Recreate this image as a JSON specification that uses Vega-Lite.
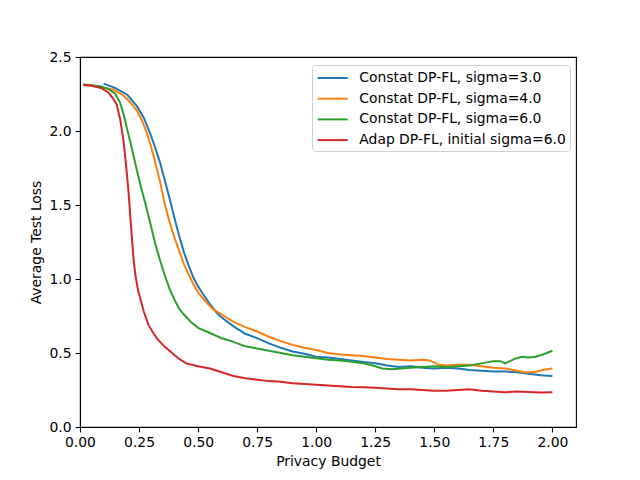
{
  "$schema": "https://vega.github.io/schema/vega-lite/v6.json",
  "width": 496,
  "height": 370,
  "autosize": "none",
  "padding": {"left": 80, "top": 57, "right": 64, "bottom": 53},
  "background": "white",
  "config": {
    "font": "DejaVu Sans",
    "view": {"stroke": "black", "strokeWidth": 1.1},
    "axis": {
      "grid": false,
      "labelFlush": false,
      "domainColor": "black",
      "domainWidth": 1.1,
      "tickColor": "black",
      "tickWidth": 1.1,
      "tickSize": 4.9,
      "labelColor": "black",
      "labelFont": "DejaVu Sans",
      "labelFontSize": 13.9,
      "labelPadding": 4,
      "titleFont": "DejaVu Sans",
      "titleFontSize": 13.9,
      "titleFontWeight": "normal",
      "titleColor": "black"
    }
  },
  "data": {
    "values": [
      {"s": "Constat DP-FL, sigma=3.0", "x": 0.10, "y": 2.32},
      {"s": "Constat DP-FL, sigma=3.0", "x": 0.15, "y": 2.29},
      {"s": "Constat DP-FL, sigma=3.0", "x": 0.20, "y": 2.245},
      {"s": "Constat DP-FL, sigma=3.0", "x": 0.24, "y": 2.17},
      {"s": "Constat DP-FL, sigma=3.0", "x": 0.27, "y": 2.09},
      {"s": "Constat DP-FL, sigma=3.0", "x": 0.30, "y": 1.97},
      {"s": "Constat DP-FL, sigma=3.0", "x": 0.32, "y": 1.88},
      {"s": "Constat DP-FL, sigma=3.0", "x": 0.34, "y": 1.78},
      {"s": "Constat DP-FL, sigma=3.0", "x": 0.36, "y": 1.66},
      {"s": "Constat DP-FL, sigma=3.0", "x": 0.38, "y": 1.54},
      {"s": "Constat DP-FL, sigma=3.0", "x": 0.40, "y": 1.41},
      {"s": "Constat DP-FL, sigma=3.0", "x": 0.42, "y": 1.29},
      {"s": "Constat DP-FL, sigma=3.0", "x": 0.44, "y": 1.18},
      {"s": "Constat DP-FL, sigma=3.0", "x": 0.46, "y": 1.09},
      {"s": "Constat DP-FL, sigma=3.0", "x": 0.48, "y": 1.01},
      {"s": "Constat DP-FL, sigma=3.0", "x": 0.50, "y": 0.95},
      {"s": "Constat DP-FL, sigma=3.0", "x": 0.52, "y": 0.90},
      {"s": "Constat DP-FL, sigma=3.0", "x": 0.55, "y": 0.83},
      {"s": "Constat DP-FL, sigma=3.0", "x": 0.58, "y": 0.77},
      {"s": "Constat DP-FL, sigma=3.0", "x": 0.60, "y": 0.74},
      {"s": "Constat DP-FL, sigma=3.0", "x": 0.65, "y": 0.68},
      {"s": "Constat DP-FL, sigma=3.0", "x": 0.70, "y": 0.63},
      {"s": "Constat DP-FL, sigma=3.0", "x": 0.75, "y": 0.60},
      {"s": "Constat DP-FL, sigma=3.0", "x": 0.80, "y": 0.565},
      {"s": "Constat DP-FL, sigma=3.0", "x": 0.85, "y": 0.535},
      {"s": "Constat DP-FL, sigma=3.0", "x": 0.90, "y": 0.51},
      {"s": "Constat DP-FL, sigma=3.0", "x": 0.95, "y": 0.495},
      {"s": "Constat DP-FL, sigma=3.0", "x": 1.00, "y": 0.475},
      {"s": "Constat DP-FL, sigma=3.0", "x": 1.05, "y": 0.47},
      {"s": "Constat DP-FL, sigma=3.0", "x": 1.10, "y": 0.46},
      {"s": "Constat DP-FL, sigma=3.0", "x": 1.15, "y": 0.45},
      {"s": "Constat DP-FL, sigma=3.0", "x": 1.20, "y": 0.44},
      {"s": "Constat DP-FL, sigma=3.0", "x": 1.25, "y": 0.43},
      {"s": "Constat DP-FL, sigma=3.0", "x": 1.30, "y": 0.415},
      {"s": "Constat DP-FL, sigma=3.0", "x": 1.35, "y": 0.405},
      {"s": "Constat DP-FL, sigma=3.0", "x": 1.40, "y": 0.41},
      {"s": "Constat DP-FL, sigma=3.0", "x": 1.45, "y": 0.40},
      {"s": "Constat DP-FL, sigma=3.0", "x": 1.50, "y": 0.395},
      {"s": "Constat DP-FL, sigma=3.0", "x": 1.55, "y": 0.40},
      {"s": "Constat DP-FL, sigma=3.0", "x": 1.60, "y": 0.395},
      {"s": "Constat DP-FL, sigma=3.0", "x": 1.65, "y": 0.385},
      {"s": "Constat DP-FL, sigma=3.0", "x": 1.70, "y": 0.38},
      {"s": "Constat DP-FL, sigma=3.0", "x": 1.75, "y": 0.375},
      {"s": "Constat DP-FL, sigma=3.0", "x": 1.80, "y": 0.375},
      {"s": "Constat DP-FL, sigma=3.0", "x": 1.85, "y": 0.37},
      {"s": "Constat DP-FL, sigma=3.0", "x": 1.90, "y": 0.36},
      {"s": "Constat DP-FL, sigma=3.0", "x": 1.95, "y": 0.35},
      {"s": "Constat DP-FL, sigma=3.0", "x": 2.00, "y": 0.345},

      {"s": "Constat DP-FL, sigma=4.0", "x": 0.014, "y": 2.31},
      {"s": "Constat DP-FL, sigma=4.0", "x": 0.05, "y": 2.305},
      {"s": "Constat DP-FL, sigma=4.0", "x": 0.10, "y": 2.29},
      {"s": "Constat DP-FL, sigma=4.0", "x": 0.14, "y": 2.28},
      {"s": "Constat DP-FL, sigma=4.0", "x": 0.18, "y": 2.245},
      {"s": "Constat DP-FL, sigma=4.0", "x": 0.21, "y": 2.2},
      {"s": "Constat DP-FL, sigma=4.0", "x": 0.24, "y": 2.14},
      {"s": "Constat DP-FL, sigma=4.0", "x": 0.26, "y": 2.08},
      {"s": "Constat DP-FL, sigma=4.0", "x": 0.28, "y": 2.0},
      {"s": "Constat DP-FL, sigma=4.0", "x": 0.30, "y": 1.9},
      {"s": "Constat DP-FL, sigma=4.0", "x": 0.32, "y": 1.78},
      {"s": "Constat DP-FL, sigma=4.0", "x": 0.34, "y": 1.65},
      {"s": "Constat DP-FL, sigma=4.0", "x": 0.36, "y": 1.5},
      {"s": "Constat DP-FL, sigma=4.0", "x": 0.38, "y": 1.38},
      {"s": "Constat DP-FL, sigma=4.0", "x": 0.40, "y": 1.28},
      {"s": "Constat DP-FL, sigma=4.0", "x": 0.42, "y": 1.19},
      {"s": "Constat DP-FL, sigma=4.0", "x": 0.44, "y": 1.1},
      {"s": "Constat DP-FL, sigma=4.0", "x": 0.46, "y": 1.03},
      {"s": "Constat DP-FL, sigma=4.0", "x": 0.48, "y": 0.965},
      {"s": "Constat DP-FL, sigma=4.0", "x": 0.50, "y": 0.91},
      {"s": "Constat DP-FL, sigma=4.0", "x": 0.53, "y": 0.85},
      {"s": "Constat DP-FL, sigma=4.0", "x": 0.56, "y": 0.80},
      {"s": "Constat DP-FL, sigma=4.0", "x": 0.60, "y": 0.76},
      {"s": "Constat DP-FL, sigma=4.0", "x": 0.65, "y": 0.71},
      {"s": "Constat DP-FL, sigma=4.0", "x": 0.70, "y": 0.675},
      {"s": "Constat DP-FL, sigma=4.0", "x": 0.75, "y": 0.645},
      {"s": "Constat DP-FL, sigma=4.0", "x": 0.80, "y": 0.61},
      {"s": "Constat DP-FL, sigma=4.0", "x": 0.85, "y": 0.58},
      {"s": "Constat DP-FL, sigma=4.0", "x": 0.90, "y": 0.555},
      {"s": "Constat DP-FL, sigma=4.0", "x": 0.95, "y": 0.535},
      {"s": "Constat DP-FL, sigma=4.0", "x": 1.00, "y": 0.52},
      {"s": "Constat DP-FL, sigma=4.0", "x": 1.05, "y": 0.50},
      {"s": "Constat DP-FL, sigma=4.0", "x": 1.10, "y": 0.49},
      {"s": "Constat DP-FL, sigma=4.0", "x": 1.15, "y": 0.485},
      {"s": "Constat DP-FL, sigma=4.0", "x": 1.20, "y": 0.48},
      {"s": "Constat DP-FL, sigma=4.0", "x": 1.25, "y": 0.47},
      {"s": "Constat DP-FL, sigma=4.0", "x": 1.30, "y": 0.46},
      {"s": "Constat DP-FL, sigma=4.0", "x": 1.35, "y": 0.455},
      {"s": "Constat DP-FL, sigma=4.0", "x": 1.40, "y": 0.45},
      {"s": "Constat DP-FL, sigma=4.0", "x": 1.45, "y": 0.455},
      {"s": "Constat DP-FL, sigma=4.0", "x": 1.48, "y": 0.45},
      {"s": "Constat DP-FL, sigma=4.0", "x": 1.52, "y": 0.42},
      {"s": "Constat DP-FL, sigma=4.0", "x": 1.55, "y": 0.415},
      {"s": "Constat DP-FL, sigma=4.0", "x": 1.60, "y": 0.42},
      {"s": "Constat DP-FL, sigma=4.0", "x": 1.65, "y": 0.42},
      {"s": "Constat DP-FL, sigma=4.0", "x": 1.70, "y": 0.41},
      {"s": "Constat DP-FL, sigma=4.0", "x": 1.75, "y": 0.40},
      {"s": "Constat DP-FL, sigma=4.0", "x": 1.80, "y": 0.395},
      {"s": "Constat DP-FL, sigma=4.0", "x": 1.85, "y": 0.38},
      {"s": "Constat DP-FL, sigma=4.0", "x": 1.88, "y": 0.37},
      {"s": "Constat DP-FL, sigma=4.0", "x": 1.92, "y": 0.37},
      {"s": "Constat DP-FL, sigma=4.0", "x": 1.96, "y": 0.385},
      {"s": "Constat DP-FL, sigma=4.0", "x": 2.00, "y": 0.395},

      {"s": "Constat DP-FL, sigma=6.0", "x": 0.014, "y": 2.315},
      {"s": "Constat DP-FL, sigma=6.0", "x": 0.05, "y": 2.31},
      {"s": "Constat DP-FL, sigma=6.0", "x": 0.09, "y": 2.30},
      {"s": "Constat DP-FL, sigma=6.0", "x": 0.12, "y": 2.285},
      {"s": "Constat DP-FL, sigma=6.0", "x": 0.15, "y": 2.25},
      {"s": "Constat DP-FL, sigma=6.0", "x": 0.17, "y": 2.19},
      {"s": "Constat DP-FL, sigma=6.0", "x": 0.185, "y": 2.11},
      {"s": "Constat DP-FL, sigma=6.0", "x": 0.20, "y": 2.01},
      {"s": "Constat DP-FL, sigma=6.0", "x": 0.22, "y": 1.88},
      {"s": "Constat DP-FL, sigma=6.0", "x": 0.24, "y": 1.74},
      {"s": "Constat DP-FL, sigma=6.0", "x": 0.26, "y": 1.61},
      {"s": "Constat DP-FL, sigma=6.0", "x": 0.28, "y": 1.49},
      {"s": "Constat DP-FL, sigma=6.0", "x": 0.30, "y": 1.36},
      {"s": "Constat DP-FL, sigma=6.0", "x": 0.32, "y": 1.23},
      {"s": "Constat DP-FL, sigma=6.0", "x": 0.34, "y": 1.12},
      {"s": "Constat DP-FL, sigma=6.0", "x": 0.36, "y": 1.02},
      {"s": "Constat DP-FL, sigma=6.0", "x": 0.38, "y": 0.93},
      {"s": "Constat DP-FL, sigma=6.0", "x": 0.40, "y": 0.86},
      {"s": "Constat DP-FL, sigma=6.0", "x": 0.42, "y": 0.80},
      {"s": "Constat DP-FL, sigma=6.0", "x": 0.44, "y": 0.76},
      {"s": "Constat DP-FL, sigma=6.0", "x": 0.47, "y": 0.71},
      {"s": "Constat DP-FL, sigma=6.0", "x": 0.50, "y": 0.67},
      {"s": "Constat DP-FL, sigma=6.0", "x": 0.55, "y": 0.635},
      {"s": "Constat DP-FL, sigma=6.0", "x": 0.60, "y": 0.60},
      {"s": "Constat DP-FL, sigma=6.0", "x": 0.65, "y": 0.575},
      {"s": "Constat DP-FL, sigma=6.0", "x": 0.70, "y": 0.545},
      {"s": "Constat DP-FL, sigma=6.0", "x": 0.75, "y": 0.53},
      {"s": "Constat DP-FL, sigma=6.0", "x": 0.80, "y": 0.515},
      {"s": "Constat DP-FL, sigma=6.0", "x": 0.85, "y": 0.50},
      {"s": "Constat DP-FL, sigma=6.0", "x": 0.90, "y": 0.485},
      {"s": "Constat DP-FL, sigma=6.0", "x": 0.95, "y": 0.475},
      {"s": "Constat DP-FL, sigma=6.0", "x": 1.00, "y": 0.465},
      {"s": "Constat DP-FL, sigma=6.0", "x": 1.05, "y": 0.455},
      {"s": "Constat DP-FL, sigma=6.0", "x": 1.10, "y": 0.45},
      {"s": "Constat DP-FL, sigma=6.0", "x": 1.15, "y": 0.44},
      {"s": "Constat DP-FL, sigma=6.0", "x": 1.20, "y": 0.43},
      {"s": "Constat DP-FL, sigma=6.0", "x": 1.24, "y": 0.415},
      {"s": "Constat DP-FL, sigma=6.0", "x": 1.28, "y": 0.395},
      {"s": "Constat DP-FL, sigma=6.0", "x": 1.32, "y": 0.39},
      {"s": "Constat DP-FL, sigma=6.0", "x": 1.36, "y": 0.395},
      {"s": "Constat DP-FL, sigma=6.0", "x": 1.40, "y": 0.40},
      {"s": "Constat DP-FL, sigma=6.0", "x": 1.45, "y": 0.405},
      {"s": "Constat DP-FL, sigma=6.0", "x": 1.50, "y": 0.41},
      {"s": "Constat DP-FL, sigma=6.0", "x": 1.55, "y": 0.405},
      {"s": "Constat DP-FL, sigma=6.0", "x": 1.60, "y": 0.41},
      {"s": "Constat DP-FL, sigma=6.0", "x": 1.65, "y": 0.415},
      {"s": "Constat DP-FL, sigma=6.0", "x": 1.70, "y": 0.43},
      {"s": "Constat DP-FL, sigma=6.0", "x": 1.75, "y": 0.445},
      {"s": "Constat DP-FL, sigma=6.0", "x": 1.78, "y": 0.445},
      {"s": "Constat DP-FL, sigma=6.0", "x": 1.80, "y": 0.43},
      {"s": "Constat DP-FL, sigma=6.0", "x": 1.84, "y": 0.46},
      {"s": "Constat DP-FL, sigma=6.0", "x": 1.87, "y": 0.475},
      {"s": "Constat DP-FL, sigma=6.0", "x": 1.90, "y": 0.47},
      {"s": "Constat DP-FL, sigma=6.0", "x": 1.93, "y": 0.475},
      {"s": "Constat DP-FL, sigma=6.0", "x": 1.96, "y": 0.49},
      {"s": "Constat DP-FL, sigma=6.0", "x": 2.00, "y": 0.515},

      {"s": "Adap DP-FL, initial sigma=6.0", "x": 0.014, "y": 2.312},
      {"s": "Adap DP-FL, initial sigma=6.0", "x": 0.05, "y": 2.305},
      {"s": "Adap DP-FL, initial sigma=6.0", "x": 0.09, "y": 2.29},
      {"s": "Adap DP-FL, initial sigma=6.0", "x": 0.12, "y": 2.26},
      {"s": "Adap DP-FL, initial sigma=6.0", "x": 0.14, "y": 2.22},
      {"s": "Adap DP-FL, initial sigma=6.0", "x": 0.155, "y": 2.18},
      {"s": "Adap DP-FL, initial sigma=6.0", "x": 0.17, "y": 2.08},
      {"s": "Adap DP-FL, initial sigma=6.0", "x": 0.184, "y": 1.935},
      {"s": "Adap DP-FL, initial sigma=6.0", "x": 0.195, "y": 1.77},
      {"s": "Adap DP-FL, initial sigma=6.0", "x": 0.205, "y": 1.597},
      {"s": "Adap DP-FL, initial sigma=6.0", "x": 0.215, "y": 1.38},
      {"s": "Adap DP-FL, initial sigma=6.0", "x": 0.226, "y": 1.145},
      {"s": "Adap DP-FL, initial sigma=6.0", "x": 0.235, "y": 1.02},
      {"s": "Adap DP-FL, initial sigma=6.0", "x": 0.245, "y": 0.93},
      {"s": "Adap DP-FL, initial sigma=6.0", "x": 0.255, "y": 0.87},
      {"s": "Adap DP-FL, initial sigma=6.0", "x": 0.27, "y": 0.78},
      {"s": "Adap DP-FL, initial sigma=6.0", "x": 0.29, "y": 0.69},
      {"s": "Adap DP-FL, initial sigma=6.0", "x": 0.31, "y": 0.635},
      {"s": "Adap DP-FL, initial sigma=6.0", "x": 0.33, "y": 0.59},
      {"s": "Adap DP-FL, initial sigma=6.0", "x": 0.36, "y": 0.54},
      {"s": "Adap DP-FL, initial sigma=6.0", "x": 0.39, "y": 0.5},
      {"s": "Adap DP-FL, initial sigma=6.0", "x": 0.42, "y": 0.46},
      {"s": "Adap DP-FL, initial sigma=6.0", "x": 0.45, "y": 0.43},
      {"s": "Adap DP-FL, initial sigma=6.0", "x": 0.50, "y": 0.41},
      {"s": "Adap DP-FL, initial sigma=6.0", "x": 0.55, "y": 0.395},
      {"s": "Adap DP-FL, initial sigma=6.0", "x": 0.60, "y": 0.37},
      {"s": "Adap DP-FL, initial sigma=6.0", "x": 0.65, "y": 0.345},
      {"s": "Adap DP-FL, initial sigma=6.0", "x": 0.70, "y": 0.33},
      {"s": "Adap DP-FL, initial sigma=6.0", "x": 0.75, "y": 0.32},
      {"s": "Adap DP-FL, initial sigma=6.0", "x": 0.80, "y": 0.31},
      {"s": "Adap DP-FL, initial sigma=6.0", "x": 0.85, "y": 0.305},
      {"s": "Adap DP-FL, initial sigma=6.0", "x": 0.90, "y": 0.295},
      {"s": "Adap DP-FL, initial sigma=6.0", "x": 0.95, "y": 0.29},
      {"s": "Adap DP-FL, initial sigma=6.0", "x": 1.00, "y": 0.285},
      {"s": "Adap DP-FL, initial sigma=6.0", "x": 1.05, "y": 0.28},
      {"s": "Adap DP-FL, initial sigma=6.0", "x": 1.10, "y": 0.275},
      {"s": "Adap DP-FL, initial sigma=6.0", "x": 1.15, "y": 0.27},
      {"s": "Adap DP-FL, initial sigma=6.0", "x": 1.20, "y": 0.268},
      {"s": "Adap DP-FL, initial sigma=6.0", "x": 1.25, "y": 0.265},
      {"s": "Adap DP-FL, initial sigma=6.0", "x": 1.30, "y": 0.26},
      {"s": "Adap DP-FL, initial sigma=6.0", "x": 1.35, "y": 0.255},
      {"s": "Adap DP-FL, initial sigma=6.0", "x": 1.40, "y": 0.255},
      {"s": "Adap DP-FL, initial sigma=6.0", "x": 1.45, "y": 0.25},
      {"s": "Adap DP-FL, initial sigma=6.0", "x": 1.50, "y": 0.245},
      {"s": "Adap DP-FL, initial sigma=6.0", "x": 1.55, "y": 0.245},
      {"s": "Adap DP-FL, initial sigma=6.0", "x": 1.60, "y": 0.25},
      {"s": "Adap DP-FL, initial sigma=6.0", "x": 1.65, "y": 0.255},
      {"s": "Adap DP-FL, initial sigma=6.0", "x": 1.70, "y": 0.245},
      {"s": "Adap DP-FL, initial sigma=6.0", "x": 1.75, "y": 0.24},
      {"s": "Adap DP-FL, initial sigma=6.0", "x": 1.80, "y": 0.235},
      {"s": "Adap DP-FL, initial sigma=6.0", "x": 1.85, "y": 0.24},
      {"s": "Adap DP-FL, initial sigma=6.0", "x": 1.90, "y": 0.237},
      {"s": "Adap DP-FL, initial sigma=6.0", "x": 1.95, "y": 0.233},
      {"s": "Adap DP-FL, initial sigma=6.0", "x": 2.00, "y": 0.235}
    ]
  },
  "mark": {"type": "line", "strokeWidth": 2, "clip": true},
  "encoding": {
    "x": {
      "field": "x",
      "type": "quantitative",
      "title": "Privacy Budget",
      "scale": {"domain": [0, 2.1], "nice": false, "zero": false},
      "axis": {
        "values": [0, 0.25, 0.5, 0.75, 1.0, 1.25, 1.5, 1.75, 2.0],
        "format": ".2f",
        "titlePadding": 5
      }
    },
    "y": {
      "field": "y",
      "type": "quantitative",
      "title": "Average Test Loss",
      "scale": {"domain": [0, 2.5], "nice": false},
      "axis": {
        "values": [0, 0.5, 1.0, 1.5, 2.0, 2.5],
        "format": ".1f",
        "titlePadding": 6
      }
    },
    "color": {
      "field": "s",
      "type": "nominal",
      "sort": null,
      "scale": {
        "domain": [
          "Constat DP-FL, sigma=3.0",
          "Constat DP-FL, sigma=4.0",
          "Constat DP-FL, sigma=6.0",
          "Adap DP-FL, initial sigma=6.0"
        ],
        "range": ["#1f77b4", "#ff7f0e", "#2ca02c", "#d62728"]
      },
      "legend": {
        "title": null,
        "orient": "none",
        "legendX": 232,
        "legendY": 8,
        "fillColor": "white",
        "strokeColor": "#d0d0d0",
        "cornerRadius": 3,
        "padding": 4,
        "symbolType": "M-1.875,0L1.875,0",
        "symbolSize": 256,
        "symbolOffset": 7.7,
        "symbolStrokeWidth": 2,
        "rowPadding": 4.7,
        "labelOffset": 17.6,
        "labelFont": "DejaVu Sans",
        "labelFontSize": 13.9,
        "labelColor": "black",
        "labelLimit": 400
      }
    },
    "order": {"field": "x", "type": "quantitative"}
  }
}
